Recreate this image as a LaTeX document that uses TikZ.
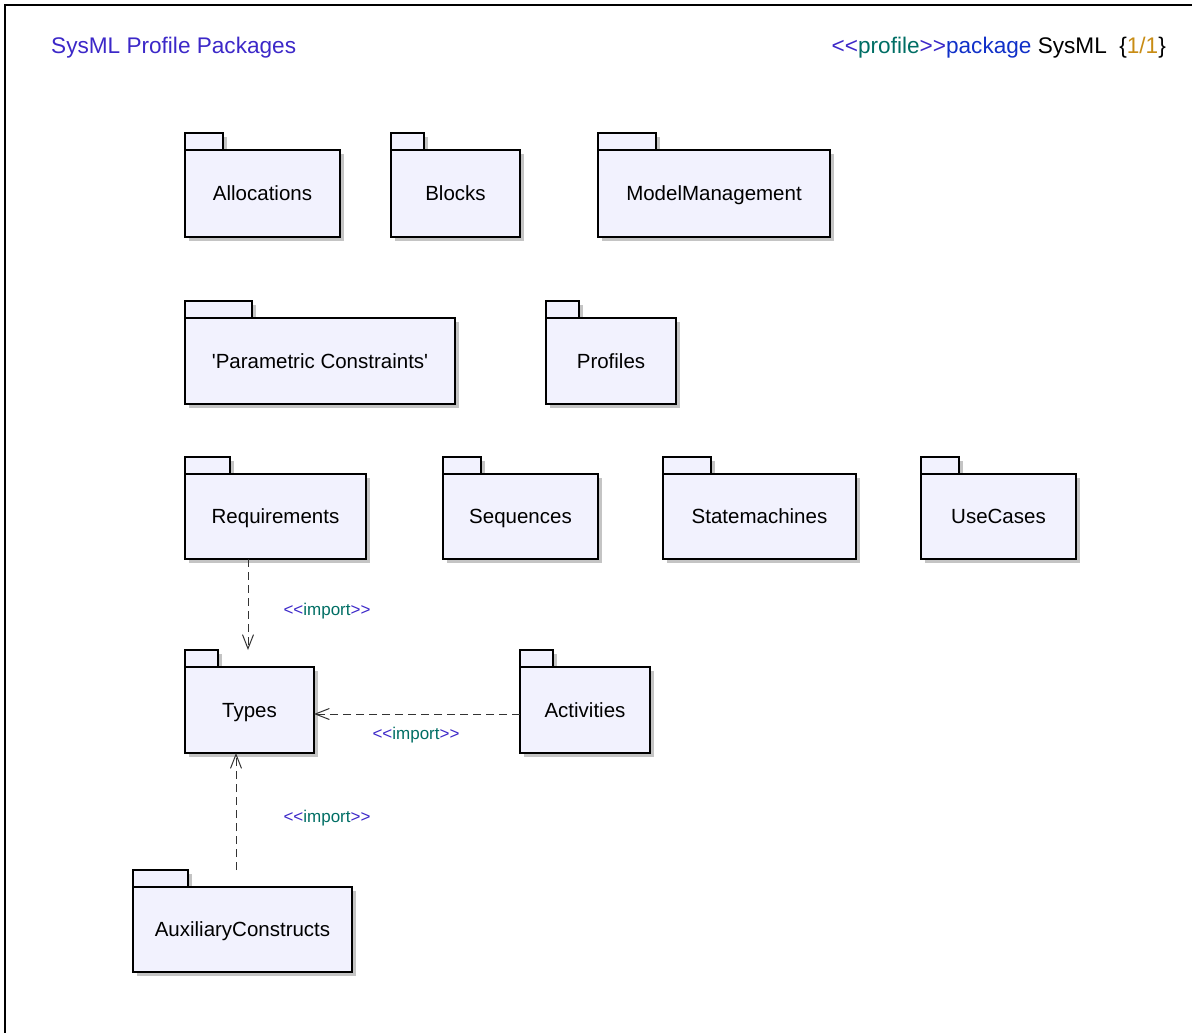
\documentclass[tikz,border=0pt]{standalone}
\usepackage{fontspec}
% a plain family keeps << >> and ' as typed
\newfontfamily\lsans{Liberation Sans}
\usetikzlibrary{arrows.meta,shadows}

\definecolor{pkgfill}{HTML}{F2F2FE}
\definecolor{pkgshadow}{HTML}{C4C4C4}
\definecolor{sterViolet}{HTML}{3C28C8}
\definecolor{sterTeal}{HTML}{006E64}
\definecolor{kwBlue}{HTML}{1030C8}
\definecolor{pageOrange}{HTML}{C88C14}

\tikzset{
  pkgpart/.style={draw=black, line width=1.5pt, fill=pkgfill, rectangle,
    inner sep=0pt, outer sep=0pt,
    drop shadow={shadow xshift=3.5pt, shadow yshift=-3.5pt, fill=pkgshadow, opacity=1}},
  pkglabel/.style={font=\lsans\fontsize{20.5}{24}\selectfont, text height=14.7pt, text depth=0pt},
  importdep/.style={draw=black!80, line width=1pt, dash pattern=on 8pt off 5pt,
    -{Straight Barb[length=14pt, width=11pt, line width=1pt]}},
  sterlabel/.style={font=\lsans\fontsize{17}{20}\selectfont, inner sep=0pt,
    text height=12.2pt, text depth=0pt},
  headtext/.style={font=\lsans\fontsize{22.6}{26}\selectfont, inner sep=0pt,
    text height=16.2pt, text depth=0pt}
}

% \umlpkg{name}{left}{top of body}{right}{bottom}{tab right}{text}
\newcommand{\umlpkg}[7]{%
  \node[pkgpart, anchor=south west, minimum width={#6-#2}, minimum height=17pt]
    (#1tab) at (#2,#3) {};
  \node[pkgpart, pkglabel, anchor=north west, minimum width={#4-#2}, minimum height={#5-#3}]
    (#1) at (#2,#3) {#7};
}
\newcommand{\importtext}{\textcolor{sterViolet}{<<}\textcolor{sterTeal}{import}\textcolor{sterViolet}{>>}}

\begin{document}
\begin{tikzpicture}[x=1pt, y=-1pt]
  \useasboundingbox (0,0) rectangle (1192,1033);

  % diagram frame
  \draw[line width=2pt] (5,1040) coordinate (frameBL) -- (5,5) coordinate (frameTL) -- (1200,5) coordinate (frameTR);

  % header
  \node[headtext, anchor=west, text=sterViolet] (title) at (51,45) {SysML Profile Packages};
  \node[headtext, anchor=east] (frameinfo) at (1166,45)
    {\textcolor{sterViolet}{<<}\textcolor{sterTeal}{profile}\textcolor{sterViolet}{>>}\textcolor{kwBlue}{package} SysML\hspace{0.55em}\{\textcolor{pageOrange}{1/1}\}};

  % packages
  \umlpkg{alloc}{185}{150}{340}{237}{223}{Allocations}
  \umlpkg{blocks}{391}{150}{520}{237}{424}{Blocks}
  \umlpkg{modelmgmt}{598}{150}{830}{237}{656}{ModelManagement}
  \umlpkg{param}{185}{318}{455}{404}{252}{'Parametric Constraints'}
  \umlpkg{profiles}{546}{318}{676}{404}{579}{Profiles}
  \umlpkg{reqs}{185}{474}{366}{559}{230}{Requirements}
  \umlpkg{seqs}{443}{474}{598}{559}{481}{Sequences}
  \umlpkg{statem}{663}{474}{856}{559}{711}{Statemachines}
  \umlpkg{usecases}{921}{474}{1076}{559}{959}{UseCases}
  \umlpkg{types}{185}{667}{314}{753}{218}{Types}
  \umlpkg{activities}{520}{667}{650}{753}{553}{Activities}
  \umlpkg{aux}{133}{887}{352}{972}{188}{AuxiliaryConstructs}

  % import dependencies
  \draw[importdep] ([xshift=-1.5pt]types.north |- reqs.south) -- ([xshift=-1.5pt]types.north |- typestab.north);
  \draw[importdep] ([yshift=-4pt]activities.west) -- ([yshift=-4pt]types.east);
  \draw[importdep] ([xshift=-6.5pt]aux.north |- auxtab.north) -- ([xshift=-6.5pt]aux.north |- types.south);

  % stereotype labels
  \node[sterlabel] (lblReq) at (327,609) {\importtext};
  \node[sterlabel] (lblAct) at (416,733) {\importtext};
  \node[sterlabel] (lblAux) at (327,816) {\importtext};
\end{tikzpicture}
\end{document}
